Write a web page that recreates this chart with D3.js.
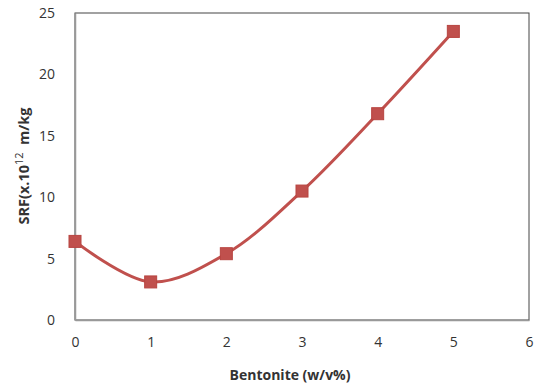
<!DOCTYPE html>
<html>
<head>
<meta charset="utf-8">
<script src="https://cdn.jsdelivr.net/npm/d3@7"></script>
<style>
body{margin:0;background:#fff;}
text{font-family:"Open Sans",sans-serif;fill:#333;}
</style>
</head>
<body>
<svg id="chart" width="537" height="387"></svg>
<script>
// donnees
var bentonite = [0,1,2,3,4,5];
var srf = [6.4,3.1,5.4,10.5,16.8,23.5];
var xTicks = [0,1,2,3,4,5,6];
var yTicks = [0,5,10,15,20,25];

var svg = d3.select("#chart");
var m = {left:75, right:529, top:13, bottom:320};

var x = d3.scaleLinear().domain([0,6]).range([m.left,m.right]);
var y = d3.scaleLinear().domain([0,25]).range([m.bottom,m.top]);

// cadre
svg.append("rect")
	.attr("x",m.left).attr("y",m.top)
	.attr("width",m.right-m.left).attr("height",m.bottom-m.top)
	.attr("fill","none").attr("stroke","#444").attr("stroke-width",1);

// axes
var gx = svg.append("g").attr("transform","translate(0,"+m.bottom+")")
	.call(d3.axisBottom(x).tickValues(xTicks).tickSize(0).tickPadding(17).tickFormat(d3.format("d")));
var gy = svg.append("g").attr("transform","translate("+m.left+",0)")
	.call(d3.axisLeft(y).tickValues(yTicks).tickSize(0).tickPadding(20).tickFormat(d3.format("d")));
[gx,gy].forEach(function(g){
	g.select(".domain").attr("stroke","#999").attr("stroke-width",1.5);
	g.selectAll("text").style("font-size","14px").attr("fill","#333");
});

// courbe
var line = d3.line()
	.x(function(d,i){return x(bentonite[i]);})
	.y(function(d){return y(d);})
	.curve(d3.curveCatmullRom.alpha(0.5));

svg.append("path")
	.datum(srf)
	.attr("d",line)
	.attr("fill","none")
	.attr("stroke","#c0504d")
	.attr("stroke-width",3);

svg.selectAll(".pt").data(srf).enter().append("rect")
	.attr("class","pt")
	.attr("x",function(d,i){return x(bentonite[i])-6;})
	.attr("y",function(d){return y(d)-6;})
	.attr("width",12).attr("height",12)
	.attr("fill","#c0504d").attr("stroke","#b84541").attr("stroke-width",1);

// titres
svg.append("text")
	.attr("x",290).attr("y",380)
	.attr("text-anchor","middle")
	.style("font-size","14px").style("font-weight","bold")
	.text("Bentonite (w/v%)");

var yt = svg.append("text")
	.attr("transform","translate(29,166) rotate(-90)")
	.attr("text-anchor","middle")
	.style("font-size","14.5px").style("font-weight","bold");
yt.append("tspan").text("SRF(x.10");
yt.append("tspan").attr("dy",-6).style("font-size","11px").style("font-weight","normal").text("12");
yt.append("tspan").attr("dy",6).text("\u00a0\u00a0m/kg");
</script>
</body>
</html>
